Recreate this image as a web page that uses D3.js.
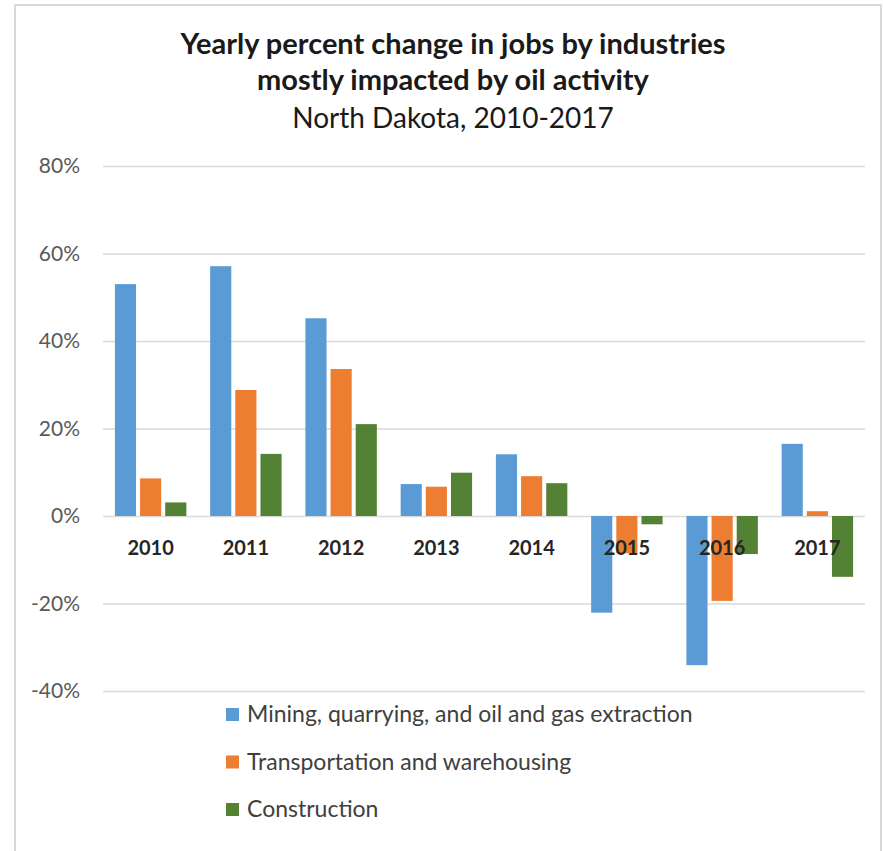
<!DOCTYPE html>
<html>
<head>
<meta charset="utf-8">
<script src="https://cdn.jsdelivr.net/npm/d3@7"></script>
<style>
  body { margin: 0; background: #fff; }
  svg { display: block; font-family: Lato, "Open Sans", sans-serif; }
</style>
</head>
<body>
<div id="chart"></div>
<script>
const years = ["2010", "2011", "2012", "2013", "2014", "2015", "2016", "2017"];
const seriesNames = [
  "Mining, quarrying, and oil and gas extraction",
  "Transportation and warehousing",
  "Construction"
];
const mining = [53.0, 57.1, 45.2, 7.3, 14.1, -22.1, -34.1, 16.5];
const transport = [8.6, 28.8, 33.6, 6.7, 9.1, -8.5, -19.4, 1.1];
const construction = [3.1, 14.2, 21.0, 9.9, 7.5, -1.9, -8.7, -13.9];
const yTicks = [-40, -20, 0, 20, 40, 60, 80];
const colors = ["#5B9BD5", "#ED7D31", "#548235"];

const values = [mining, transport, construction];
const rows = years.map((yr, i) => ({
  year: yr,
  vals: seriesNames.map((s, j) => ({ key: s, idx: j, v: values[j][i] }))
}));

const W = 883, H = 851;
const margin = { left: 103, right: 18, top: 166, bottom: 160 };

const svg = d3.select("#chart").append("svg")
  .attr("width", W)
  .attr("height", H);

svg.append("rect").attr("width", W).attr("height", H).attr("fill", "#fff");

// outer frame
svg.append("rect")
  .attr("x", 15).attr("y", 5)
  .attr("width", 866).attr("height", 860)
  .attr("fill", "none")
  .attr("stroke", "#d9d9d9")
  .attr("stroke-width", 2);

// titles
const title = svg.append("g").attr("text-anchor", "middle").attr("fill", "#1a1a1a");
title.append("text").attr("x", 453).attr("y", 54)
  .attr("font-weight", "bold").attr("font-size", 29)
  .text("Yearly percent change in jobs by industries");
title.append("text").attr("x", 453).attr("y", 90)
  .attr("font-weight", "bold").attr("font-size", 29)
  .text("mostly impacted by oil activity");
title.append("text").attr("x", 453).attr("y", 128)
  .attr("font-size", 28)
  .text("North Dakota, 2010-2017");

const x = d3.scaleBand()
  .domain(years)
  .range([margin.left, W - margin.right])
  .paddingInner(0.25)
  .paddingOuter(0.125);

const x1 = d3.scaleBand()
  .domain(seriesNames)
  .range([0, x.bandwidth()])
  .paddingInner(0.16);

const y = d3.scaleLinear()
  .domain([-40, 80])
  .range([691, 166]);

// gridlines + y labels
const yAxis = svg.append("g")
  .attr("transform", `translate(${margin.left},0)`)
  .call(d3.axisLeft(y)
    .tickValues(yTicks)
    .tickSize(-(W - margin.right - margin.left))
    .tickPadding(23)
    .tickFormat(d => d + "%"));
yAxis.select(".domain").remove();
yAxis.selectAll(".tick line").attr("stroke", "#d9d9d9").attr("stroke-width", 1.5);
yAxis.selectAll(".tick text")
  .attr("font-family", "Lato, 'Open Sans', sans-serif")
  .attr("font-size", 21)
  .attr("fill", "#595959");

// bars
const groups = svg.append("g").selectAll("g")
  .data(rows)
  .join("g")
  .attr("transform", d => `translate(${x(d.year)},0)`);

groups.selectAll("rect")
  .data(d => d.vals)
  .join("rect")
  .attr("x", d => x1(d.key))
  .attr("width", x1.bandwidth())
  .attr("y", d => y(Math.max(0, d.v)))
  .attr("height", d => Math.abs(y(d.v) - y(0)))
  .attr("fill", d => colors[d.idx]);

// category labels, drawn on top of the bars
svg.append("g").selectAll("text")
  .data(years)
  .join("text")
  .attr("x", d => x(d) + x.bandwidth() / 2)
  .attr("y", 555)
  .attr("text-anchor", "middle")
  .attr("font-weight", "bold")
  .attr("font-size", 20)
  .attr("fill", "#262626")
  .text(d => d);

// legend
const legend = svg.append("g").selectAll("g")
  .data(seriesNames)
  .join("g")
  .attr("transform", (d, i) => `translate(226,${714 + i * 47.5})`);
legend.append("rect")
  .attr("x", 0).attr("y", -6)
  .attr("width", 13).attr("height", 13)
  .attr("fill", (d, i) => colors[i]);
legend.append("text")
  .attr("x", 21).attr("y", 8)
  .attr("font-size", 23)
  .attr("fill", "#404040")
  .text(d => d);
</script>
</body>
</html>
